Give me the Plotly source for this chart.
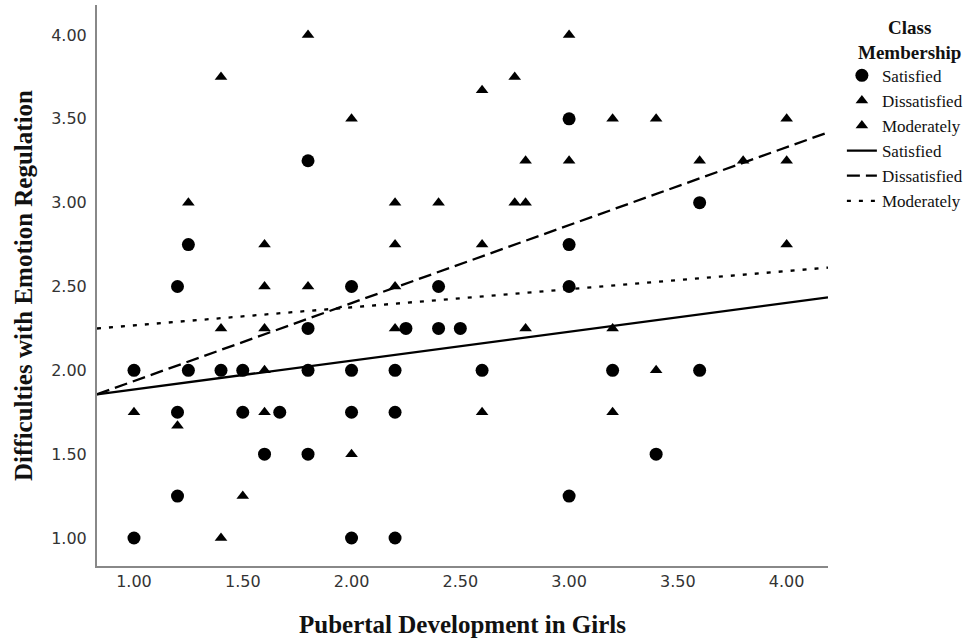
import numpy as np
import plotly.graph_objects as go

# --- data ---
sat_x = [1.8, 1.25, 1.2, 3.0, 3.0, 2.0, 2.4, 3.0, 3.6, 1.8, 1.0, 1.25, 1.4, 1.5, 1.8, 1.2, 1.5, 1.67,
         1.6, 1.8, 1.2, 1.0, 2.25, 2.4, 2.5, 2.0, 2.2, 2.6, 2.0, 2.2, 3.0, 2.0, 2.2, 3.2, 3.6, 3.4]
sat_y = [3.25, 2.75, 2.5, 3.5, 2.75, 2.5, 2.5, 2.5, 3.0, 2.25, 2.0, 2.0, 2.0, 2.0, 2.0, 1.75, 1.75, 1.75,
         1.5, 1.5, 1.25, 1.0, 2.25, 2.25, 2.25, 2.0, 2.0, 2.0, 1.75, 1.75, 1.25, 1.0, 1.0, 2.0, 2.0, 1.5]

dis_x = [3.0, 2.75, 2.6, 2.8, 3.0, 2.75, 2.8, 3.2, 3.4, 4.0, 3.6, 3.8, 4.0, 4.0, 1.0, 1.2, 1.5, 1.4,
         1.6, 1.6, 2.0, 2.2, 2.6, 2.4]
dis_y = [4.0, 3.75, 3.67, 3.25, 3.25, 3.0, 3.0, 3.5, 3.5, 3.5, 3.25, 3.25, 3.25, 2.75, 1.75, 1.67, 1.25, 1.0,
         2.0, 1.75, 1.5, 2.25, 2.75, 3.0]

mod_x = [1.8, 1.4, 1.25, 1.6, 1.6, 1.8, 2.0, 2.2, 2.2, 2.2, 1.4, 1.6, 2.8, 2.6, 3.2, 3.4, 3.2]
mod_y = [4.0, 3.75, 3.0, 2.75, 2.5, 2.5, 3.5, 3.0, 2.75, 2.5, 2.25, 2.25, 2.25, 1.75, 2.25, 2.0, 1.75]

# fit lines (intercept, slope) per class
fit_names = ["Satisfied", "Dissatisfied", "Moderately"]
fit_intercept = [1.714, 1.471, 2.160]
fit_slope = [0.172, 0.465, 0.108]

x_range = [0.83, 4.19]
y_range = [0.833, 4.179]
tick_vals = [1.0, 1.5, 2.0, 2.5, 3.0, 3.5, 4.0]
tick_text = ["1.00", "1.50", "2.00", "2.50", "3.00", "3.50", "4.00"]

serif = "Liberation Serif, Times New Roman, serif"
sans = "DejaVu Sans, Verdana, sans-serif"

fig = go.Figure()
fig.add_trace(go.Scatter(x=sat_x, y=sat_y, mode="markers", name="Satisfied",
                         marker=dict(symbol="circle", size=13, color="black")))
fig.add_trace(go.Scatter(x=dis_x, y=dis_y, mode="markers", name="Dissatisfied",
                         marker=dict(symbol="triangle-up", size=11, color="black")))
fig.add_trace(go.Scatter(x=mod_x, y=mod_y, mode="markers", name="Moderately",
                         marker=dict(symbol="triangle-up", size=11, color="black")))

dashes = ["solid", "13px,6px", "4px,8px"]
lx = np.array(x_range)
for name, b0, b1, d in zip(fit_names, fit_intercept, fit_slope, dashes):
    fig.add_trace(go.Scatter(x=lx, y=b0 + b1 * lx, mode="lines", name=name,
                             line=dict(color="black", width=2.3, dash=d)))

fig.add_annotation(text="<b>Class<br>Membership</b>", xref="paper", yref="paper",
                   x=1.112, y=0.982, xanchor="center", yanchor="top", align="center",
                   showarrow=False, font=dict(family=serif, size=19, color="#111"))

fig.update_layout(
    width=974, height=641,
    margin=dict(l=97, r=146, t=5, b=75),
    paper_bgcolor="white", plot_bgcolor="white",
    showlegend=True,
    legend=dict(
        x=1.019, y=0.906, xanchor="left", yanchor="top",
        font=dict(family=serif, size=17, color="#111"),
        itemwidth=30, tracegroupgap=0,
        bgcolor="rgba(0,0,0,0)",
    ),
    xaxis=dict(range=x_range, tickvals=tick_vals, ticktext=tick_text,
               showgrid=False, zeroline=False, showline=True, linecolor="#888", linewidth=2,
               ticks="", tickfont=dict(family=sans, size=16, color="#333"),
               title=dict(text="<b>Pubertal Development in Girls</b>", standoff=25,
                          font=dict(family=serif, size=25, color="#111"))),
    yaxis=dict(range=y_range, tickvals=tick_vals, ticktext=tick_text,
               showgrid=False, zeroline=False, showline=True, linecolor="#888", linewidth=2,
               ticks="", ticklabelstandoff=5, tickfont=dict(family=sans, size=16, color="#333"),
               title=dict(text="<b>Difficulties with Emotion Regulation</b>", standoff=11,
                          font=dict(family=serif, size=25, color="#111"))),
)

fig.write_html("out.html", config={"displayModeBar": False},
               post_script="document.body.style.margin='0';")
